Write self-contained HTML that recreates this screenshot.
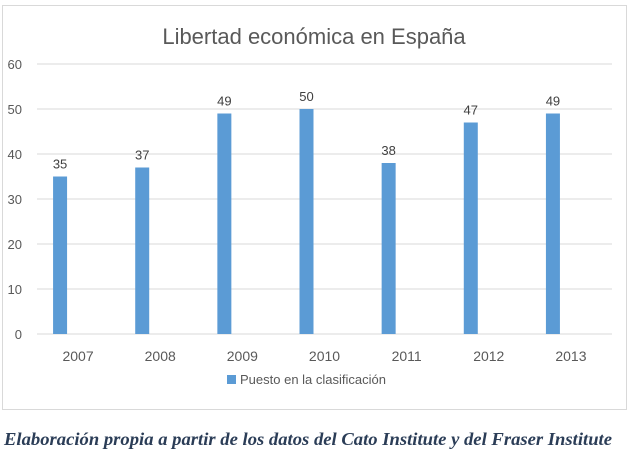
<!DOCTYPE html>
<html><head><meta charset="utf-8"><style>
body{margin:0;width:629px;height:452px;background:#fff;overflow:hidden;font-family:"Liberation Sans",sans-serif}
</style></head><body>
<svg width="629" height="452">
<rect x="2.5" y="5.5" width="624" height="404" fill="#fff" stroke="#d9d9d9"/>
<text x="314" y="44" text-anchor="middle" font-size="22" fill="#595959">Libertad económica en España</text>
<g id="grid"></g><g id="bars"></g>
<rect x="227" y="375" width="9" height="9" fill="#5b9bd5"/>
<text x="240" y="384" font-size="13" fill="#595959">Puesto en la clasificación</text>
<text x="4" y="445" font-family="Liberation Serif" font-weight="bold" font-style="italic" font-size="18" textLength="608" lengthAdjust="spacingAndGlyphs" fill="#2b3d57">Elaboración propia a partir de los datos del Cato Institute y del Fraser Institute</text>
</svg>
<script>
const categories=["2007","2008","2009","2010","2011","2012","2013"];
const values=[35,37,49,50,38,47,49];
const ticks=[0,10,20,30,40,50,60];
const ns="http://www.w3.org/2000/svg";
const x0=37,x1=612,yTop=64,yBot=334,max=60;
const y=v=>yBot-(yBot-yTop)*v/max;
const bw=(x1-x0)/categories.length;
const g=document.getElementById('grid'),b=document.getElementById('bars');
function mk(p,t,a){const e=document.createElementNS(ns,t);for(const k in a)e.setAttribute(k,a[k]);p.appendChild(e);return e;}
ticks.forEach(t=>{
 const l=mk(g,'line',{x1:x0,x2:x1,y1:y(t),y2:y(t),stroke:'#d9d9d9'});
 
 
 const tx=mk(g,'text',{x:22,y:y(t)+5,'text-anchor':'end','font-size':13,fill:'#595959'});
 tx.textContent=t;
 
 
});
categories.forEach((c,i)=>{
 const cx=x0+bw*(i+0.5);
 const bx=cx-25;
 const r=mk(b,'rect',{x:bx,y:y(values[i]),width:14,height:yBot-y(values[i]),fill:'#5b9bd5'});
 
 
 const vl=mk(b,'text',{x:bx+7,y:y(values[i])-8,'text-anchor':'middle','font-size':13,fill:'#404040'});
 vl.textContent=values[i];
 
 
 const xl=mk(b,'text',{x:cx,y:361,'text-anchor':'middle','font-size':14,fill:'#595959'});
 xl.textContent=c;
 
 
});
</script>
</body></html>
